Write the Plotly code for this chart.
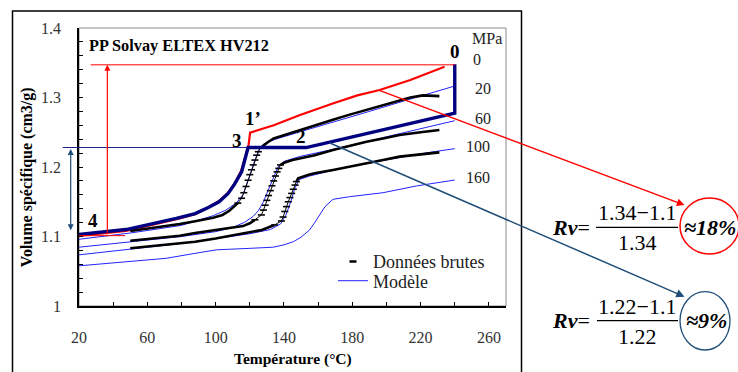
import plotly.graph_objects as go

# ---------------- data ----------------
# thick navy path (isobaric cooling path 0 -> 3 -> 4)
navy_T = [20, 47.5, 77, 88, 96, 102, 107.3, 111, 115.2, 117, 118.2, 119, 153, 240, 240]
navy_V = [1.103, 1.110, 1.126, 1.133, 1.142, 1.150, 1.162, 1.175, 1.193, 1.208, 1.222, 1.228, 1.228, 1.2775, 1.348]

# red model, 0 MPa (path 1')
red_T = [20, 47.5, 77, 88, 96, 102, 107.3, 111, 115, 117, 118.5, 119.3, 120.2, 134, 149, 169, 183, 196, 214, 234]
red_V = [1.101, 1.108, 1.125, 1.132, 1.142, 1.151, 1.163, 1.176, 1.195, 1.210, 1.224, 1.232, 1.2494, 1.260, 1.2745,
         1.2917, 1.303, 1.3108, 1.3252, 1.3443]

# model curves (thin blue)
b20_T = [20, 50, 80, 98.6, 106, 112, 116, 119, 121, 123, 125.5, 128, 135, 150, 170, 190, 211.6, 240]
b20_V = [1.096, 1.105, 1.116, 1.130, 1.138, 1.148, 1.160, 1.180, 1.195, 1.210, 1.225, 1.233, 1.240, 1.251, 1.265,
         1.280, 1.296, 1.3165]
b60_T = [20, 50, 80, 100, 110, 117, 122, 125, 128, 131, 134, 136.5, 140, 149, 170, 190, 210, 225, 240]
b60_V = [1.0846, 1.092, 1.100, 1.107, 1.113, 1.1205, 1.129, 1.137, 1.150, 1.168, 1.186, 1.200, 1.208, 1.215, 1.226,
         1.238, 1.249, 1.258, 1.2666]
b100_T = [20, 50, 80, 100, 120, 132, 138, 141, 144, 146.5, 149, 155, 170, 190, 210, 225, 240]
b100_V = [1.0736, 1.082, 1.090, 1.097, 1.104, 1.110, 1.118, 1.130, 1.150, 1.170, 1.182, 1.187, 1.196, 1.206, 1.215,
          1.221, 1.2264]
b160_T = [20, 50, 71, 88, 100.5, 122, 133.7, 140, 145.5, 150, 155, 158, 161, 164, 168.7, 178.5, 198, 217.5, 240]
b160_V = [1.0578, 1.064, 1.0686, 1.0758, 1.0808, 1.0832, 1.0846, 1.088, 1.0925, 1.099, 1.1094, 1.120, 1.131, 1.1429,
          1.1535, 1.1573, 1.163, 1.1727, 1.1813]

# raw data (black)
raw20_T = [50, 65, 79, 88, 98.5, 104, 108, 113, 115.2, 116.5, 117.8, 119, 120, 121, 122, 123, 124, 125, 126, 128,
           130.7, 134, 139, 146, 153, 160, 168.7, 178, 188.3, 198, 207.7, 214, 221.4, 231]
raw20_V = [1.108, 1.113, 1.118, 1.122, 1.127, 1.131, 1.137, 1.148, 1.155, 1.163, 1.172, 1.181, 1.189, 1.196, 1.203,
           1.210, 1.217, 1.222, 1.227, 1.231, 1.236, 1.241, 1.245, 1.250, 1.256, 1.262, 1.268, 1.275, 1.282, 1.289,
           1.296, 1.300, 1.303, 1.302]
raw60_T = [50, 65, 79, 88, 98.5, 108, 116, 120, 123, 126.8, 128, 129, 130, 131, 132, 133, 134, 135, 136, 137, 138,
           140.5, 145, 150, 158, 168.7, 178, 188.3, 198, 207.7, 220, 231]
raw60_V = [1.094, 1.098, 1.101, 1.105, 1.109, 1.112, 1.115, 1.119, 1.124, 1.131, 1.138, 1.145, 1.152, 1.159, 1.166,
           1.173, 1.180, 1.187, 1.193, 1.198, 1.203, 1.2065, 1.210, 1.2125, 1.217, 1.2245, 1.230, 1.2364, 1.241,
           1.246, 1.250, 1.2532]
raw100_T = [50, 65, 80, 88, 100, 117, 127, 134.5, 138.5, 139.5, 140.5, 141.5, 142.5, 143.5, 144.5, 145.5, 146.5,
            147.3, 148.3, 154, 158, 168.7, 178, 188.3, 198, 207.7, 220, 231]
raw100_V = [1.083, 1.087, 1.091, 1.0925, 1.097, 1.1046, 1.1094, 1.1166, 1.1223, 1.128, 1.136, 1.143, 1.150, 1.156,
            1.162, 1.168, 1.174, 1.179, 1.1837, 1.1885, 1.191, 1.1957, 1.200, 1.2053, 1.210, 1.2149, 1.218, 1.2211]

# axis ticks
x_ticks = [20, 60, 100, 140, 180, 220, 260]
y_ticks = [1, 1.1, 1.2, 1.3, 1.4]

# labels
pressure_labels = ["MPa", "0", "20", "60", "100", "160"]
point_labels = ["0", "1\u2019", "3", "2", "4"]

# annotation values (cm3/g)
V_top = 1.347      # 0 / 1' level
V_glass = 1.228    # 3 level
V_bottom = 1.1012  # 4 level

# ---------------- layout helpers ----------------
W, H = 738, 372
PL, PR, PT, PB = 79, 506, 28, 306
X0, X1 = 20, 270
Y0, Y1 = 1.0, 1.4


def px_x(p):
    return (p - PL) / (PR - PL)


def px_y(p):
    return (PB - p) / (PB - PT)


def dx(t):
    return (t - X0) / (X1 - X0)


def dy(v):
    return (v - Y0) / (Y1 - Y0)


FONT = "Liberation Serif"
NAVY = "#000080"
RED = "#FF0000"
MBLUE = "#2424FF"
STEEL = "#1F4E79"

fig = go.Figure()


def lines(T, V, color, width, name=None, legend=False, which="legend"):
    return go.Scatter(x=T, y=V, mode="lines", line=dict(color=color, width=width),
                      name=name, showlegend=legend, legend=which, hoverinfo="skip")


# model curves
fig.add_trace(lines(b160_T, b160_V, MBLUE, 1))
fig.add_trace(lines(b100_T, b100_V, MBLUE, 1))
fig.add_trace(lines(b60_T, b60_V, MBLUE, 1))
fig.add_trace(lines(b20_T, b20_V, MBLUE, 1, name="Modèle", legend=True, which="legend2"))

# red 0 MPa model
fig.add_trace(lines(red_T, red_V, RED, 2.2))

# raw data
for T, V, i0, i1 in [(raw20_T, raw20_V, 7, 18), (raw60_T, raw60_V, 8, 20), (raw100_T, raw100_V, 7, 17)]:
    fig.add_trace(lines(T[:i0 + 1], V[:i0 + 1], "black", 2.6))
    fig.add_trace(go.Scatter(x=T[i0:i1 + 1], y=V[i0:i1 + 1], mode="lines+markers",
                             line=dict(color="black", width=1),
                             marker=dict(symbol="line-ew", size=5, line=dict(color="black", width=1.6)),
                             showlegend=False, hoverinfo="skip"))
    fig.add_trace(lines(T[i1:], V[i1:], "black", 2.6))

# legend entry for raw data
fig.add_trace(go.Scatter(x=[None], y=[None], mode="markers", name="Données brutes", legend="legend",
                         marker=dict(symbol="line-ew", size=5, line=dict(color="black", width=2.5)),
                         showlegend=True))

# navy thick path
fig.add_trace(lines(navy_T, navy_V, NAVY, 3.4))

shapes = []
# outer frame
shapes.append(dict(type="rect", xref="paper", yref="paper", x0=px_x(12.5), x1=px_x(521.5),
                   y0=px_y(420), y1=px_y(11), line=dict(color="black", width=1.5), layer="below"))
# plot frame (grey)
shapes.append(dict(type="rect", xref="paper", yref="paper", x0=0, x1=1, y0=0, y1=1,
                   line=dict(color="#8a8a8a", width=1), layer="below"))
# red thin horizontal lines
shapes.append(dict(type="line", xref="x", yref="y", x0=26.8, x1=240, y0=V_top, y1=V_top,
                   line=dict(color=RED, width=1)))
shapes.append(dict(type="line", xref="x", yref="y", x0=20, x1=47, y0=V_bottom, y1=V_bottom,
                   line=dict(color=RED, width=1)))
# navy thin horizontal at level 3 (extends into left margin)
shapes.append(dict(type="line", xref="paper", yref="paper", x0=px_x(62.7), x1=dx(118.5),
                   y0=dy(V_glass), y1=dy(V_glass), line=dict(color="#22228C", width=1.1)))
# fraction bars
shapes.append(dict(type="line", xref="paper", yref="paper", x0=px_x(596), x1=px_x(678),
                   y0=px_y(227.3), y1=px_y(227.3), line=dict(color="black", width=1.2)))
shapes.append(dict(type="line", xref="paper", yref="paper", x0=px_x(597), x1=px_x(678),
                   y0=px_y(320.7), y1=px_y(320.7), line=dict(color="black", width=1.2)))
# ellipses
shapes.append(dict(type="circle", xref="paper", yref="paper", x0=px_x(680), x1=px_x(739),
                   y0=px_y(254), y1=px_y(198), line=dict(color=RED, width=1.5)))
shapes.append(dict(type="circle", xref="paper", yref="paper", x0=px_x(680), x1=px_x(730),
                   y0=px_y(350), y1=px_y(291.7), line=dict(color=STEEL, width=1.3)))

ann = []
# red vertical arrow (level 4 -> level 0)
ann.append(dict(x=36.6, y=V_top, ax=36.6, ay=V_bottom, xref="x", yref="y", axref="x", ayref="y",
                text="", showarrow=True, arrowhead=2, arrowsize=1, arrowwidth=1.2, arrowcolor=RED, standoff=0))
# steel double arrow in left margin (level 4 <-> level 3)
ann.append(dict(x=px_x(70.7), y=1.226, xref="paper", yref="y", ax=0, ay=1.107, axref="pixel", ayref="y",
                text="", showarrow=True, arrowhead=2, arrowsize=1, arrowwidth=1.2, arrowcolor=STEEL,
                arrowside="end+start", startarrowhead=2, startarrowsize=1, standoff=0, startstandoff=0))
# connectors to the formulas
ann.append(dict(x=374.5, y=1.1453, ax=195, ay=1.311, xref="x", yref="y", axref="x", ayref="y",
                text="", showarrow=True, arrowhead=2, arrowsize=1.1, arrowwidth=1.4, arrowcolor=RED, standoff=0))
ann.append(dict(x=374.5, y=1.0134, ax=166, ay=1.2354, xref="x", yref="y", axref="x", ayref="y",
                text="", showarrow=True, arrowhead=2, arrowsize=1.1, arrowwidth=1.5, arrowcolor=STEEL, standoff=0))


def label(x, y, text, font, xref="paper", yref="paper", xanchor="center", angle=0):
    return dict(x=x, y=y, xref=xref, yref=yref, xanchor=xanchor, yanchor="middle", text=text,
                showarrow=False, font=font, textangle=angle, borderpad=0)


# point labels
for lab, t, v in zip(point_labels, [240, 121.9, 112.6, 150.2, 28.4], [1.3659, 1.270, 1.2388, 1.2446, 1.1237]):
    ann.append(label(t, v, "<b>%s</b>" % lab, dict(family=FONT, size=19, color="black"), "x", "y"))
# pressure labels
for lab, t, v in zip(pressure_labels, [258.7, 253.2, 256.7, 256.7, 253.7, 253.7],
                     [1.3852, 1.355, 1.3132, 1.2701, 1.2292, 1.1852]):
    ann.append(label(t, v, lab, dict(family=FONT, size=16, color="#222"), "x", "y"))

# titles
ann.append(label(px_x(88), px_y(45.7), "<b>PP Solvay ELTEX HV212</b>",
                 dict(family=FONT, size=16.3, color="black"), xanchor="left"))
ann.append(label(px_x(26.7), px_y(177.5), "<b>Volume spécifique (cm3/g)</b>",
                 dict(family=FONT, size=16, color="black"), angle=-90))
ann.append(label(px_x(292.5), px_y(359), "<b>Température (°C)</b>",
                 dict(family=FONT, size=15.5, color="black")))

# formulas
FF = dict(family=FONT, size=22, color="black")
for yc, num, den, res, cx in [(227.3, "1.34\u22121.1", "1.34", "\u224818%", 709.5),
                              (320.7, "1.22\u22121.1", "1.22", "\u22489%", 706)]:
    ann.append(label(px_x(591), px_y(yc), "<b><i>Rv</i></b>=", FF, xanchor="right"))
    ann.append(label(px_x(637), px_y(yc - 14.5), num, FF))
    ann.append(label(px_x(637), px_y(yc + 15.5), den, FF))
    ann.append(label(px_x(cx), px_y(yc), "<b><i>%s</i></b>" % res, FF))

LEG_FONT = dict(family=FONT, size=18, color="#222")
fig.update_layout(
    width=W, height=H,
    margin=dict(l=PL, r=W - PR, t=PT, b=H - PB, pad=0),
    paper_bgcolor="white", plot_bgcolor="white",
    font=dict(family=FONT, size=16, color="#222"),
    shapes=shapes, annotations=ann,
    showlegend=True,
    legend=dict(x=px_x(333), y=px_y(261.7), xanchor="left", yanchor="middle", bgcolor="rgba(0,0,0,0)",
                font=LEG_FONT, itemwidth=30),
    legend2=dict(x=px_x(333), y=px_y(281), xanchor="left", yanchor="middle", bgcolor="rgba(0,0,0,0)",
                 font=LEG_FONT, itemwidth=30),
    xaxis=dict(range=[X0, X1], tickmode="array", tickvals=x_ticks, ticktext=[str(v) for v in x_ticks],
               ticks="inside", ticklen=4, tickwidth=1, tickcolor="black",
               minor=dict(tickmode="linear", tick0=20, dtick=20, ticks="inside", ticklen=4, tickcolor="black"),
               showline=True, linecolor="black", linewidth=1.6, showgrid=False, zeroline=False,
               tickfont=dict(family=FONT, size=16, color="#333"), ticklabelstandoff=16),
    yaxis=dict(range=[Y0, Y1], tickmode="array", tickvals=y_ticks, ticktext=["1", "1.1", "1.2", "1.3", "1.4"],
               ticks="inside", ticklen=4, tickwidth=1, tickcolor="black",
               minor=dict(tickmode="linear", tick0=1.0, dtick=0.02, ticks="inside", ticklen=4, tickcolor="black"),
               showline=True, linecolor="black", linewidth=1.6, showgrid=False, zeroline=False,
               tickfont=dict(family=FONT, size=16, color="#333"), ticklabelstandoff=13),
)

fig.write_html("out.html")
